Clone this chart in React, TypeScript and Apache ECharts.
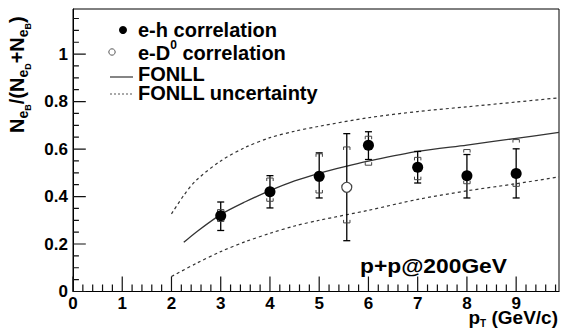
import React, { useEffect, useRef } from "react";
import * as echarts from "echarts";

const FONT = "'Liberation Sans', Arial, Helvetica, sans-serif";

// e-h correlation (filled)
const ehPt = [3, 4, 5, 6, 7, 8, 9];
const ehVal = [0.319, 0.42, 0.485, 0.616, 0.523, 0.488, 0.497];
const ehStatLo = [0.257, 0.352, 0.394, 0.556, 0.457, 0.394, 0.394];
const ehStatHi = [0.377, 0.488, 0.584, 0.673, 0.59, 0.577, 0.601];
const ehSysLo = [0.295, 0.38, 0.415, 0.532, 0.471, 0.454, 0.443];
const ehSysHi = [0.345, 0.478, 0.58, 0.654, 0.565, 0.598, 0.64];

// e-D0 correlation (open)
const d0Pt = [5.56];
const d0Val = [0.439];
const d0StatLo = [0.214];
const d0StatHi = [0.665];
const d0SysLo = [0.289];
const d0SysHi = [0.609];

// FONLL central
const fonllPt = [2.25, 2.5, 3, 3.5, 4, 4.5, 5, 5.5, 6, 7, 8, 9, 9.87];
const fonllVal = [0.207, 0.25, 0.324, 0.378, 0.425, 0.466, 0.498, 0.525, 0.549, 0.59, 0.617, 0.645, 0.67];
// FONLL uncertainty band edges
const fonllUpPt = [2, 2.25, 2.5, 3, 3.5, 4, 4.5, 5, 6, 7, 8, 9, 9.87];
const fonllUpVal = [0.327, 0.405, 0.468, 0.55, 0.607, 0.648, 0.675, 0.696, 0.732, 0.758, 0.778, 0.798, 0.816];
const fonllLoPt = [2, 2.5, 3, 3.5, 4, 4.5, 5, 6, 7, 8, 9, 9.87];
const fonllLoVal = [0.063, 0.118, 0.168, 0.21, 0.245, 0.276, 0.3, 0.342, 0.388, 0.424, 0.454, 0.483];

// axes
const xMin = 0, xMax = 9.87, xMajorStep = 1, xMinorPerMajor = 5;
const yMin = 0, yMax = 1.19, yMajorStep = 0.2, yMinorPerMajor = 4;
// tick lengths in axis units (x ticks measured along y, y ticks along x)
const xTickMajorLen = 0.063, xTickMinorLen = 0.03;
const yTickMajorLen = 0.26, yTickMinorLen = 0.12;

const legendLabels = ["e-h correlation", "e-D", "0", " correlation", "FONLL", "FONLL uncertainty"];
const energyLabel = "p+p@200GeV";

let ctx: CanvasRenderingContext2D | null = null;
function measure(text: string, size: number) {
  if (!ctx) ctx = document.createElement("canvas").getContext("2d");
  ctx!.font = `bold ${size}px ${FONT}`;
  return ctx!.measureText(text).width;
}

type Seg = { t: string; s: number; dy: number };
function segTexts(segs: Seg[], x0: number, y0: number) {
  let x = x0;
  const out: any[] = [];
  for (const g of segs) {
    out.push({
      type: "text",
      x,
      y: y0 + g.dy,
      style: {
        text: g.t,
        font: `bold ${g.s}px ${FONT}`,
        fill: "#000",
        textAlign: "left",
        textVerticalAlign: "middle",
        align: "left",
        verticalAlign: "middle",
      },
    });
    x += measure(g.t, g.s);
  }
  return { children: out, width: x - x0 };
}

function txt(text: string, x: number, y: number, size: number, align = "left", scaleX = 1) {
  return {
    type: "text",
    x,
    y,
    scaleX,
    style: {
      text,
      font: `bold ${size}px ${FONT}`,
      fill: "#000",
      textAlign: align,
      textVerticalAlign: "middle",
      align,
      verticalAlign: "middle",
    },
  };
}

function errRows(px: number[], v: number[], lo: number[], hi: number[], slo: number[], shi: number[]) {
  return px.map((x, i) => [x, v[i], lo[i], hi[i], slo[i], shi[i]]);
}

const renderErr = (params: any, api: any) => {
  const x = api.value(0);
  const [px] = api.coord([x, api.value(1)]);
  const pLo = api.coord([x, api.value(2)])[1];
  const pHi = api.coord([x, api.value(3)])[1];
  const sLo = api.coord([x, api.value(4)])[1];
  const sHi = api.coord([x, api.value(5)])[1];
  const cw = 3.5, bw = 3.2, leg = 3;
  const ls = { stroke: "#000", lineWidth: 1.3 };
  const bs = { stroke: "#444", lineWidth: 1, fill: "none" };
  return {
    type: "group",
    children: [
      { type: "line", shape: { x1: px, y1: pLo, x2: px, y2: pHi }, style: ls },
      { type: "line", shape: { x1: px - cw, y1: pHi, x2: px + cw, y2: pHi }, style: ls },
      { type: "line", shape: { x1: px - cw, y1: pLo, x2: px + cw, y2: pLo }, style: ls },
      { type: "polyline", shape: { points: [[px - bw, sHi + leg], [px - bw, sHi], [px + bw, sHi], [px + bw, sHi + leg]] }, style: bs },
      { type: "polyline", shape: { points: [[px - bw, sLo - leg], [px - bw, sLo], [px + bw, sLo], [px + bw, sLo - leg]] }, style: bs },
    ],
  };
};

// tick segments as broken line-series data
function xTickData() {
  const out: any[] = [];
  const xs = xMajorStep / xMinorPerMajor;
  for (let i = 0; xMin + i * xs <= xMax + 1e-9; i++) {
    const v = xMin + i * xs;
    const len = i % xMinorPerMajor === 0 ? xTickMajorLen : xTickMinorLen;
    out.push([v, yMin], [v, yMin + len], ["-", "-"]);
  }
  return out;
}
function yTickData() {
  const out: any[] = [];
  const ys = yMajorStep / yMinorPerMajor;
  for (let i = 0; yMin + i * ys <= yMax + 1e-9; i++) {
    const v = yMin + i * ys;
    const len = i % yMinorPerMajor === 0 ? yTickMajorLen : yTickMinorLen;
    out.push([xMin, v], [xMin + len, v], ["-", "-"]);
  }
  return out;
}

export default function App() {
  const ref = useRef<HTMLDivElement>(null);
  useEffect(() => {
    if (!ref.current) return;
    const chart = echarts.init(ref.current, null, { renderer: "svg" });

    const yT = segTexts(
      [
        { t: "N", s: 20, dy: 0 },
        { t: "e", s: 14, dy: 6 },
        { t: "B", s: 9, dy: 11 },
        { t: "/(", s: 20, dy: 0 },
        { t: "N", s: 20, dy: 0 },
        { t: "e", s: 14, dy: 6 },
        { t: "D", s: 9, dy: 11 },
        { t: "+", s: 20, dy: 0 },
        { t: "N", s: 20, dy: 0 },
        { t: "e", s: 14, dy: 6 },
        { t: "B", s: 9, dy: 11 },
        { t: ")", s: 20, dy: 0 },
      ],
      0,
      0
    );
    const xSegs: Seg[] = [
      { t: "p", s: 19, dy: 0 },
      { t: "T", s: 10, dy: 6 },
      { t: " (GeV/c)", s: 19, dy: 0 },
    ];
    let xw = 0;
    for (const s of xSegs) xw += measure(s.t, s.s);
    const xT = segTexts(xSegs, 558 - xw, 317);

    const d0T = segTexts(
      [
        { t: legendLabels[1], s: 20, dy: 0 },
        { t: legendLabels[2], s: 12, dy: -8 },
        { t: legendLabels[3], s: 20, dy: 0 },
      ],
      138,
      53
    );

    const ppScale = 147 / measure(energyLabel, 20);

    const tickLine = {
      type: "line",
      showSymbol: false,
      connectNulls: false,
      silent: true,
      clip: false,
      lineStyle: { color: "#111", width: 1.2 },
      z: 5,
    };

    chart.setOption({
      animation: false,
      backgroundColor: "#fff",
      grid: {
        left: 73,
        top: 9,
        right: 3,
        bottom: 43.5,
        show: true,
        borderColor: "#000",
        borderWidth: 1,
      },
      xAxis: {
        type: "value",
        min: xMin,
        max: xMax,
        interval: xMajorStep,
        axisLine: { show: true, onZero: false, lineStyle: { color: "#000", width: 1 } },
        axisTick: { show: false },
        minorTick: { show: false },
        splitLine: { show: false },
        axisLabel: {
          margin: 3,
          color: "#000",
          fontFamily: FONT,
          fontWeight: "bold",
          fontSize: 17,
          showMaxLabel: false,
          formatter: (v: number) => (Math.abs(v - Math.round(v)) < 1e-6 ? String(Math.round(v)) : ""),
        },
      },
      yAxis: {
        type: "value",
        min: yMin,
        max: yMax,
        interval: yMajorStep,
        axisLine: { show: true, onZero: false, lineStyle: { color: "#000", width: 1 } },
        axisTick: { show: false },
        minorTick: { show: false },
        splitLine: { show: false },
        axisLabel: {
          margin: 5,
          color: "#000",
          fontFamily: FONT,
          fontWeight: "bold",
          fontSize: 17,
          showMaxLabel: false,
          formatter: (v: number) => {
            if (Math.abs(v * 5 - Math.round(v * 5)) > 1e-6) return "";
            if (Math.abs(v) < 1e-6) return "0";
            if (Math.abs(v - 1) < 1e-6) return "1";
            return v.toFixed(1);
          },
        },
      },
      series: [
        { ...tickLine, data: xTickData() },
        { ...tickLine, data: yTickData() },
        {
          type: "line",
          data: fonllUpPt.map((x, i) => [x, fonllUpVal[i]]),
          showSymbol: false,
          smooth: 0.3,
          lineStyle: { color: "#333", width: 1.2, type: [3, 3] },
          z: 1,
        },
        {
          type: "line",
          data: fonllLoPt.map((x, i) => [x, fonllLoVal[i]]),
          showSymbol: false,
          smooth: 0.3,
          lineStyle: { color: "#333", width: 1.2, type: [3, 3] },
          z: 1,
        },
        {
          type: "line",
          data: fonllPt.map((x, i) => [x, fonllVal[i]]),
          showSymbol: false,
          smooth: 0.3,
          lineStyle: { color: "#333", width: 1.3 },
          z: 1,
        },
        {
          type: "custom",
          renderItem: renderErr,
          data: errRows(ehPt, ehVal, ehStatLo, ehStatHi, ehSysLo, ehSysHi),
          encode: { x: 0, y: 1 },
          z: 2,
        },
        {
          type: "custom",
          renderItem: renderErr,
          data: errRows(d0Pt, d0Val, d0StatLo, d0StatHi, d0SysLo, d0SysHi),
          encode: { x: 0, y: 1 },
          z: 2,
        },
        {
          type: "scatter",
          data: ehPt.map((x, i) => [x, ehVal[i]]),
          symbol: "circle",
          symbolSize: 11,
          itemStyle: { color: "#000", opacity: 1 },
          z: 3,
        },
        {
          type: "scatter",
          data: d0Pt.map((x, i) => [x, d0Val[i]]),
          symbol: "circle",
          symbolSize: 10,
          itemStyle: { color: "#fff", borderColor: "#444", borderWidth: 1.2, opacity: 1 },
          z: 3,
        },
      ],
      graphic: [
        { type: "group", x: 17, y: 133, rotation: Math.PI / 2, children: yT.children },
        { type: "group", children: xT.children },
        { type: "circle", shape: { cx: 123, cy: 30, r: 4 }, style: { fill: "#000" } },
        txt(legendLabels[0], 138, 30, 20),
        { type: "circle", shape: { cx: 112, cy: 52, r: 3.2 }, style: { fill: "#fff", stroke: "#555", lineWidth: 1 } },
        { type: "group", children: d0T.children },
        { type: "line", shape: { x1: 110, y1: 77, x2: 133, y2: 77 }, style: { stroke: "#333", lineWidth: 1.2 } },
        txt(legendLabels[4], 138, 73.5, 20),
        { type: "line", shape: { x1: 110, y1: 94, x2: 133, y2: 94 }, style: { stroke: "#555", lineWidth: 1.2, lineDash: [2, 2] } },
        txt(legendLabels[5], 138, 93, 20),
        txt(energyLabel, 433.5, 266.5, 20, "center", ppScale),
      ],
    });

    return () => chart.dispose();
  }, []);
  return (
    <div
      ref={ref}
      style={{ position: "absolute", left: 0, top: 0, width: 562, height: 335, background: "#fff" }}
    />
  );
}
